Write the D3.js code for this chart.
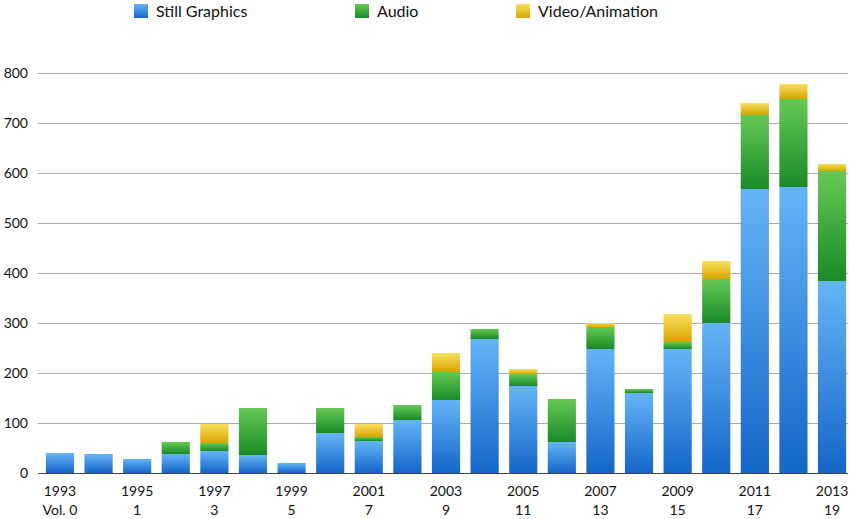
<!DOCTYPE html>
<html><head><meta charset="utf-8">
<script src="https://cdn.jsdelivr.net/npm/d3@7"></script>
<style>body{margin:0;background:#fff}text{font-family:"Lato","Open Sans",sans-serif}</style>
</head><body><svg id="chart" width="849" height="519"></svg>
<script>
const years = d3.range(1993, 2014);
const volumes = ["Vol. 0","","1","","3","","5","","7","","9","","11","","13","","15","","17","","19"];
const still = [40,38,28,38,44,36,20,80,64,106,146,268,174,62,248,160,248,300,568,572,384];
const audio = [0,0,0,24,16,94,0,50,8,30,56,20,24,86,44,8,14,88,148,176,220];
const video = [0,0,0,0,38,0,0,0,26,0,38,0,10,0,8,0,56,36,24,30,14];
const seriesNames = ["Still Graphics","Audio","Video/Animation"];
const yTicks = [0,100,200,300,400,500,600,700,800];

const svg = d3.select("#chart");
const x = d3.scaleBand().domain(years).range([42, 850]).paddingInner(0.27).paddingOuter(0.1);
const y = d3.scaleLinear().domain([0, 800]).range([473, 73]);

const grads = [["gS","#66b4f7","#1466c8"],["gA","#66c955","#1a8a28"],["gV","#f7e060","#d9a400"]];
const defs = svg.append("defs");
grads.forEach(([id,a,b]) => {
  const g = defs.append("linearGradient").attr("id", id).attr("x1",0).attr("y1",0).attr("x2",0).attr("y2",1);
  g.append("stop").attr("offset","0%").attr("stop-color",a);
  g.append("stop").attr("offset","100%").attr("stop-color",b);
});

// grid
svg.selectAll(".grid").data(yTicks).enter().append("line")
  .attr("x1",38).attr("x2",848).attr("y1",d=>y(d)).attr("y2",d=>y(d))
  .attr("stroke",d=>d===0?"#444":"#aaa").attr("stroke-width",1).attr("shape-rendering","crispEdges");
svg.selectAll(".yl").data(yTicks).enter().append("text")
  .attr("x",28).attr("y",d=>y(d)+5).attr("text-anchor","end").attr("font-size",14).attr("fill","#111").text(d=>d);

const data = years.map((yr,i)=>({year:yr, s:still[i], a:audio[i], v:video[i]}));
const stack = d3.stack().keys(["s","a","v"])(data);
stack.forEach((layer,k) => {
  svg.selectAll(".b"+k).data(layer).enter().append("rect")
    .attr("x",d=>x(d.data.year)).attr("width",x.bandwidth())
    .attr("y",d=>y(d[1])).attr("height",d=>Math.max(0,y(d[0])-y(d[1])))
    .attr("fill",`url(#${grads[k][0]})`);
});

// x labels
years.forEach((yr,i) => {
  if (i % 2) return;
  const cx = x(yr) + x.bandwidth()/2;
  svg.append("text").attr("x",cx).attr("y",496).attr("text-anchor","middle").attr("font-size",14).attr("fill","#111").text(yr);
  svg.append("text").attr("x",cx).attr("y",515).attr("text-anchor","middle").attr("font-size",14).attr("fill","#111").text(volumes[i]);
});

// legend
const lx = [134, 355, 516];
seriesNames.forEach((n,k) => {
  svg.append("rect").attr("x",lx[k]).attr("y",4).attr("width",14).attr("height",14).attr("fill",`url(#${grads[k][0]})`);
  svg.append("text").attr("x",lx[k]+22).attr("y",17).attr("font-size",16).attr("fill","#111").text(n);
});
</script></body></html>
